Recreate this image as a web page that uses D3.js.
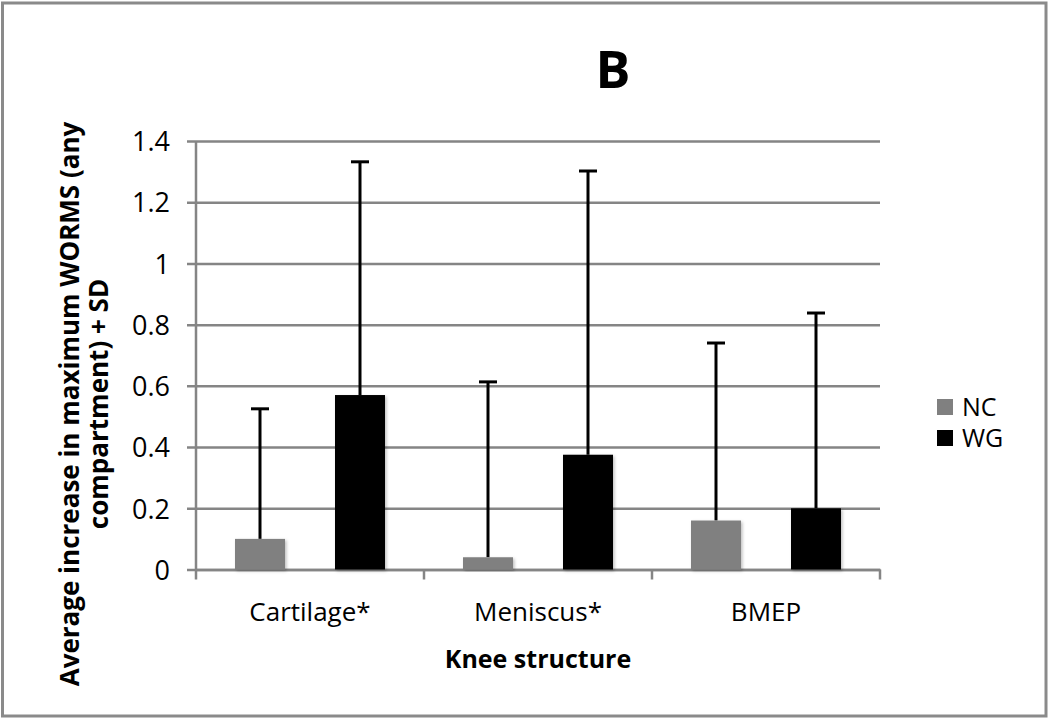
<!DOCTYPE html>
<html>
<head>
<meta charset="utf-8">
<script src="https://cdn.jsdelivr.net/npm/d3@7"></script>
<style>
	body { margin: 0; background: #fff; }
	svg text { font-family: "Open Sans", Lato, sans-serif; fill: #000; }
</style>
</head>
<body>
<div id="chart"></div>
<script>

// data
const categories = [ "Cartilage*", "Meniscus*", "BMEP" ];
const series = [ "NC", "WG" ];
const means = {
	NC: [ 0.10, 0.04, 0.16 ],
	WG: [ 0.57, 0.375, 0.20 ]
};
const upper = {		// mean + SD
	NC: [ 0.525, 0.613, 0.74 ],
	WG: [ 1.332, 1.302, 0.838 ]
};
const yTicks = [ 0, 0.2, 0.4, 0.6, 0.8, 1, 1.2, 1.4 ];
const yTickLabels = [ "0", "0.2", "0.4", "0.6", "0.8", "1", "1.2", "1.4" ];
const colors = { NC: "#808080", WG: "#000000" };

///////////////////////////////////////////////////////////////////////

const W = 1050, H = 720;
const plot = { left: 196, right: 880, top: 141, bottom: 569.5 };

const svg = d3.select( "#chart" ).append( "svg" )
	.attr( "width", W )
	.attr( "height", H );

let defs = svg.append( "defs" );
defs.append( "filter" ).attr( "id", "shadow" )
	.attr( "x", "-20%" ).attr( "y", "-20%" ).attr( "width", "140%" ).attr( "height", "140%" )
	.append( "feDropShadow" )
		.attr( "dx", 1.5 ).attr( "dy", 1.5 ).attr( "stdDeviation", 1.5 )
		.attr( "flood-color", "#000" ).attr( "flood-opacity", 0.25 );

// outer frame
svg.append( "rect" )
	.attr( "x", 2.5 ).attr( "y", 3 )
	.attr( "width", 1043.5 ).attr( "height", 713 )
	.attr( "fill", "none" )
	.attr( "stroke", "#8a8a8a" )
	.attr( "stroke-width", 3 );

const x = d3.scaleBand()
	.domain( categories )
	.range( [ plot.left, plot.right ] );

const xInner = d3.scaleBand()
	.domain( series )
	.range( [ 0, x.bandwidth() ] )
	.paddingInner( 0.5 )
	.paddingOuter( 0.39 );

const y = d3.scaleLinear()
	.domain( [ 0, 1.4 ] )
	.range( [ plot.bottom, plot.top ] );

// gridlines + y labels
const yAxis = d3.axisLeft( y )
	.tickValues( yTicks )
	.tickSize( -( plot.right - plot.left ) )
	.tickPadding( 26 )
	.tickFormat( ( d, i ) => yTickLabels[ i ] );

const gy = svg.append( "g" )
	.attr( "transform", "translate(" + plot.left + ",0)" )
	.call( yAxis );
gy.select( ".domain" ).remove();
gy.selectAll( ".tick line" )
	.attr( "x1", -9 )
	.attr( "stroke", "#858585" )
	.attr( "stroke-width", 2.5 );
gy.selectAll( ".tick text" )
	.attr( "font-size", 27 )
	.attr( "dy", "0.36em" );

// y axis line
svg.append( "line" )
	.attr( "x1", plot.left ).attr( "x2", plot.left )
	.attr( "y1", plot.top ).attr( "y2", plot.bottom + 10 )
	.attr( "stroke", "#858585" )
	.attr( "stroke-width", 2.5 );

// x axis
const xAxis = d3.axisBottom( x )
	.tickSize( 0 )
	.tickPadding( 0 );
const gx = svg.append( "g" )
	.attr( "transform", "translate(0," + plot.bottom + ")" )
	.call( xAxis );
gx.select( ".domain" )
	.attr( "stroke", "#858585" )
	.attr( "stroke-width", 2.5 );
gx.selectAll( ".tick text" )
	.attr( "font-size", 26 )
	.attr( "y", 51 )
	.attr( "dy", 0 );

// category separators
const seps = categories.map( c => x( c ) + x.bandwidth() );
gx.selectAll( ".sep" )
	.data( seps )
	.join( "line" )
		.attr( "class", "sep" )
		.attr( "x1", d => d ).attr( "x2", d => d )
		.attr( "y1", 0 ).attr( "y2", 10 )
		.attr( "stroke", "#858585" )
		.attr( "stroke-width", 2.5 );

// bars
const rows = [];
categories.forEach( ( c, i ) => {
	series.forEach( s => {
		rows.push( { cat: c, s, v: means[ s ][ i ], hi: upper[ s ][ i ] } );
	} );
} );

// error bars (drawn first so bars sit on top)
const eb = svg.append( "g" ).selectAll( "g" )
	.data( rows )
	.join( "g" )
		.attr( "transform", d => "translate(" + ( x( d.cat ) + xInner( d.s ) + xInner.bandwidth() / 2 ) + ",0)" );
eb.append( "line" )
	.attr( "x1", 0 ).attr( "x2", 0 )
	.attr( "y1", d => y( d.v ) )
	.attr( "y2", d => y( d.hi ) )
	.attr( "stroke", "#000" )
	.attr( "stroke-width", 3 );
eb.append( "line" )
	.attr( "x1", -9 ).attr( "x2", 9 )
	.attr( "y1", d => y( d.hi ) )
	.attr( "y2", d => y( d.hi ) )
	.attr( "stroke", "#000" )
	.attr( "stroke-width", 3 );

svg.append( "g" ).selectAll( "rect" )
	.data( rows )
	.join( "rect" )
		.attr( "x", d => x( d.cat ) + xInner( d.s ) )
		.attr( "y", d => y( d.v ) )
		.attr( "width", xInner.bandwidth() )
		.attr( "height", d => y( 0 ) - y( d.v ) )
		.attr( "fill", d => colors[ d.s ] )
		.attr( "filter", "url(#shadow)" );

// title
svg.append( "text" )
	.attr( "x", 613 ).attr( "y", 88 )
	.attr( "text-anchor", "middle" )
	.attr( "font-size", 52 )
	.attr( "font-weight", "bold" )
	.text( "B" );

// axis titles
svg.append( "text" )
	.attr( "x", 538 ).attr( "y", 668 )
	.attr( "text-anchor", "middle" )
	.attr( "font-size", 25 )
	.attr( "font-weight", "bold" )
	.text( "Knee structure" );

const yt = svg.append( "text" )
	.attr( "transform", "translate(79,404) rotate(-90)" )
	.attr( "text-anchor", "middle" )
	.attr( "font-size", 26 )
	.attr( "font-weight", "bold" );
yt.append( "tspan" ).attr( "x", 0 ).attr( "dy", 0 ).text( "Average increase in maximum WORMS (any" );
yt.append( "tspan" ).attr( "x", 0 ).attr( "dy", 29 ).text( "compartment) + SD" );

// legend
const lg = svg.append( "g" ).selectAll( "g" )
	.data( series )
	.join( "g" )
		.attr( "transform", ( d, i ) => "translate(937," + ( 399 + i * 31 ) + ")" );
lg.append( "rect" )
	.attr( "width", 16 ).attr( "height", 16 )
	.attr( "fill", d => colors[ d ] );
lg.append( "text" )
	.attr( "x", 25 ).attr( "y", 8 )
	.attr( "dy", "0.36em" )
	.attr( "font-size", 25 )
	.text( d => d );

</script>
</body>
</html>
